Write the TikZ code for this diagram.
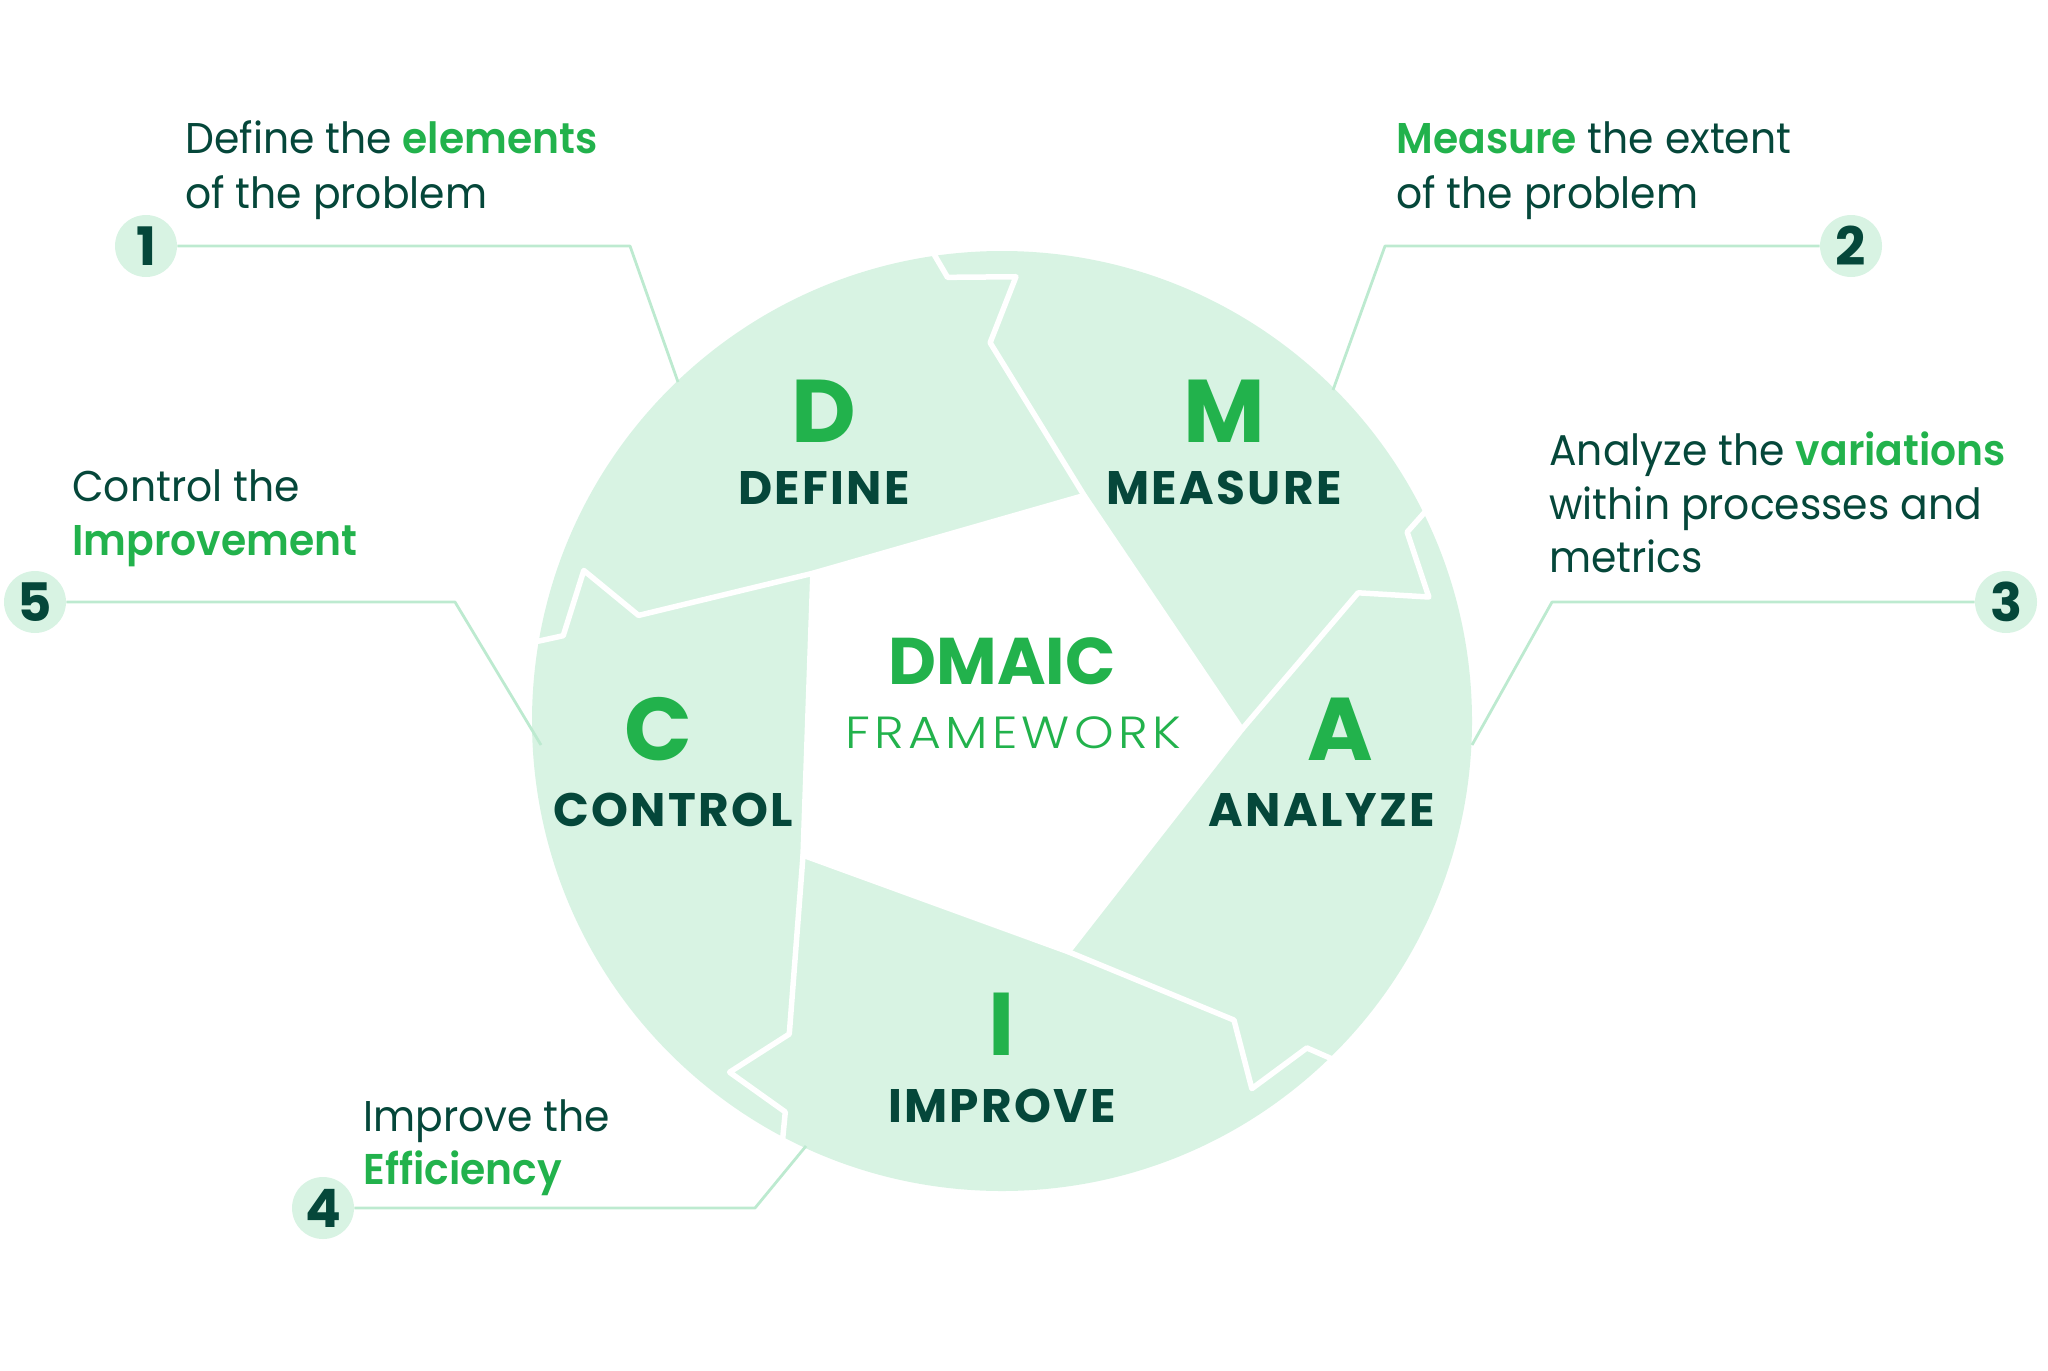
\documentclass[tikz,border=0pt]{standalone}
\usepackage{fontspec}
\setmainfont{Poppins}
\newfontfamily\descfont{Poppins}[FakeStretch=0.95, BoldFont={Poppins SemiBold}]
\newfontfamily\stagefont{Poppins}[LetterSpace=5]
\newfontfamily\lightfont{Poppins Light}[FakeStretch=1.12, LetterSpace=9.5]
\definecolor{disk}{HTML}{D8F3E3}
\definecolor{brand}{HTML}{22B24C}
\definecolor{dark}{HTML}{05473A}
\definecolor{connc}{HTML}{BDEAD0}
\newcommand{\hlw}[1]{{\bfseries\color{brand}#1}}
\begin{document}
\begin{tikzpicture}[x=0.5pt,y=-0.5pt,
  desc/.style={font=\descfont\fontsize{21.5}{26}\selectfont, text=dark, inner sep=0pt, anchor=base west},
  bigletter/.style={font=\fontsize{44.5}{50}\selectfont\bfseries, text=brand, inner sep=0pt, anchor=base},
  stage/.style={font=\stagefont\fontsize{23.5}{28}\selectfont\bfseries, text=dark, inner sep=0pt, anchor=base},
  numdot/.style={circle, fill=disk, minimum size=31pt, inner sep=0pt, font=\fontsize{26.5}{30}\selectfont\bfseries, text=dark},
  conn/.style={draw=connc, line width=1.4pt, line join=round},
  cutline/.style={draw=white, line width=2.75pt, line join=round, line cap=round}
]
\useasboundingbox (0,0) rectangle (2048,1370);
% disk
\fill[disk] (1002,721) circle [radius=235pt];
\begin{scope}[shift={(1002,721)}]
  \fill[white] (2:240) -- (74:240) -- (146:240) -- (218:240) -- (290:240) -- cycle;
  \foreach \o in {0,72,144,216,288}{
    \draw[cutline] (2+\o:240) -- (-70+\o:240) -- (-91.8+\o:378.5) -- (-88.2+\o:444.5) -- (-97+\o:447) -- (-98.5+\o:476);
  }
\end{scope}
% connectors
\coordinate (c1a) at (630,246); \coordinate (c1b) at (678,382);
\coordinate (c2a) at (1385,246); \coordinate (c2b) at (1333,390);
\coordinate (c3a) at (1552,602); \coordinate (c3b) at (1472,745);
\coordinate (c4a) at (755,1208); \coordinate (c4b) at (806,1146);
\coordinate (c5a) at (455,602); \coordinate (c5b) at (541,745);
\node[numdot] (n1) at (146,246) {1};
\node[numdot] (n2) at (1851,246) {2};
\node[numdot] (n3) at (2006,602) {3};
\node[numdot] (n4) at (323,1208) {4};
\node[numdot] (n5) at (35,602) {5};
\draw[conn] (n1.east) -- (c1a) -- (c1b);
\draw[conn] (n2.west) -- (c2a) -- (c2b);
\draw[conn] (n3.west) -- (c3a) -- (c3b);
\draw[conn] (n4.east) -- (c4a) -- (c4b);
\draw[conn] (n5.east) -- (c5a) -- (c5b);
% descriptions
\node[desc] (t1a) at (185,154) {Define the \hlw{elements}};
\node[desc] (t1b) at (185,208) {of the problem};
\node[desc] (t2a) at (1396,154) {\hlw{Measure} the extent};
\node[desc] (t2b) at (1396,208) {of the problem};
\node[desc] (t3a) at (1549,465) {Analyze the \hlw{variations}};
\node[desc] (t3b) at (1549,519) {within processes and};
\node[desc] (t3c) at (1549,572) {metrics};
\node[desc] (t4a) at (363,1131) {Improve the};
\node[desc] (t4b) at (363,1184) {\hlw{Efficiency}};
\node[desc] (t5a) at (72,501) {Control the};
\node[desc] (t5b) at (72,555) {\hlw{Improvement}};
% stage labels
\node[bigletter] (lD) at (824,442) {D};
\node[stage] (wD) at (824,504) {DEFINE};
\node[bigletter] (lM) at (1224,442) {M};
\node[stage] (wM) at (1224,504) {MEASURE};
\node[bigletter] (lA) at (1340,760) {A};
\node[stage] (wA) at (1322,826) {ANALYZE};
\node[bigletter] (lC) at (658,760) {C};
\node[stage] (wC) at (673,826) {CONTROL};
\node[bigletter] (lI) at (1002,1055) {I};
\node[stage] (wI) at (1002,1122) {IMPROVE};
\node[font=\fontsize{33}{38}\selectfont\bfseries, text=brand, inner sep=0pt, anchor=base] (dm) at (1002,684) {DMAIC};
\node[font=\lightfont\fontsize{22.5}{26}\selectfont, text=brand, inner sep=0pt, anchor=base] (fw) at (1013,748) {FRAMEWORK};
\end{tikzpicture}
\end{document}
